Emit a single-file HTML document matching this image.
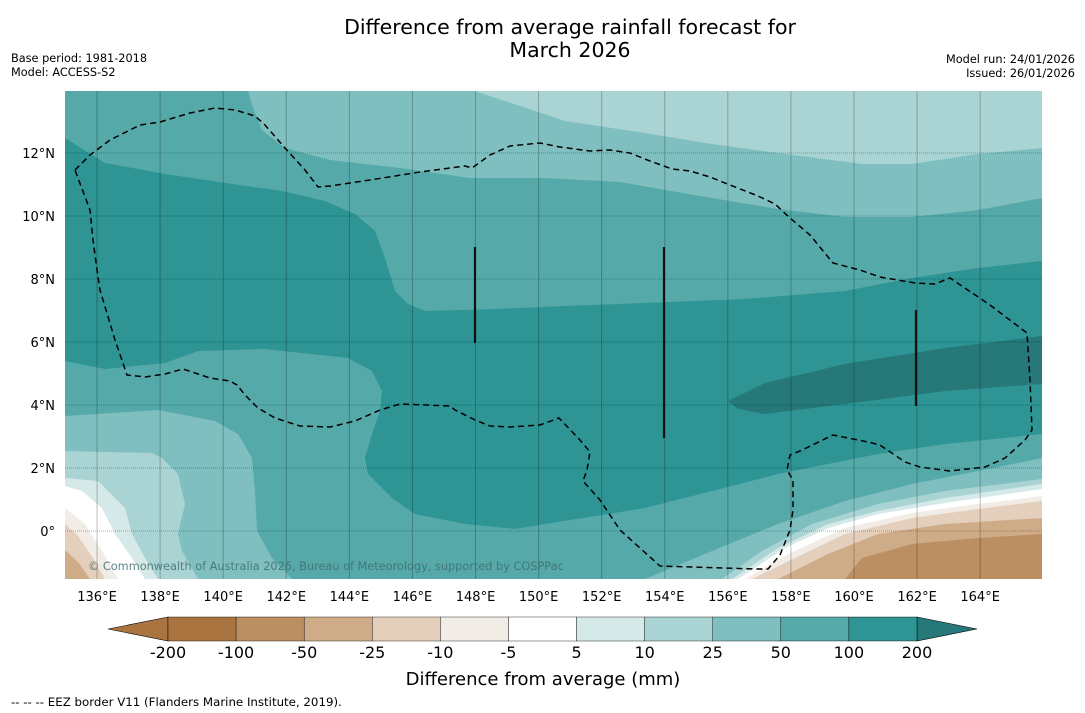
<!DOCTYPE html>
<html><head><meta charset="utf-8"><style>
body{margin:0;background:#fff;width:1085px;height:713px;overflow:hidden;font-family:"Liberation Sans","DejaVu Sans",sans-serif}
svg{position:absolute;left:0;top:0}
</style></head><body>
<svg width="1085" height="713" font-family="DejaVu Sans, Liberation Sans, sans-serif">
<text x="570" y="34" text-anchor="middle" font-size="20.5">Difference from average rainfall forecast for</text>
<text x="570" y="57" text-anchor="middle" font-size="20.5">March 2026</text>
<text x="11" y="62" font-size="11.3">Base period: 1981-2018</text>
<text x="11" y="76" font-size="11.3">Model: ACCESS-S2</text>
<text x="1075" y="63" font-size="11.3" text-anchor="end">Model run: 24/01/2026</text>
<text x="1075" y="77" font-size="11.3" text-anchor="end">Issued: 26/01/2026</text>
<defs><clipPath id="mc"><rect x="65" y="91" width="977" height="488"/></clipPath></defs>
<g clip-path="url(#mc)">
<rect x="65" y="91" width="977" height="488" fill="#56a9a9"/>
<path fill="#80bfbf" d="M248,91 L252,105 262,130 285,148 330,160 400,168 470,178 545,178 620,182 700,196 778,209 845,217 912,217 978,210 1042,198 L1042,91Z"/>
<path fill="#aad4d4" d="M475,91 L520,106 565,121 645,133 712,144 778,153 862,164 912,164 978,154 1042,148 L1042,91Z"/>
<path fill="#2e9494" d="M65,138 L105,163 165,174 232,184 282,191 325,201 355,214 375,231 385,258 395,291 408,304 425,311 498,309 565,306 645,303 745,299 845,291 912,278 978,268 1042,261 L1042,434 945,444 878,454 778,474 712,491 645,508 545,524 515,529 465,524 415,514 392,498 368,474 365,458 372,434 380,411 382,391 372,371 348,358 265,349 198,351 165,363 105,369 65,361Z"/>
<path fill="#277878" d="M728,401 L765,383 845,364 945,348 1042,336 1042,384 945,391 845,404 765,414 738,409Z"/>
<path fill="#80bfbf" d="M65,416 L98,414 158,410 215,421 238,434 252,458 255,491 257,531 272,558 292,579 65,579Z"/>
<path fill="#aad4d4" d="M65,451 L152,453 162,458 178,474 185,504 178,534 182,551 198,579 65,579Z"/>
<path fill="#d5e9e8" d="M65,478 L98,481 125,508 132,534 145,558 158,579 65,579Z"/>
<path fill="#ffffff" d="M65,486 L82,491 102,508 115,534 132,558 145,579 65,579Z"/>
<path fill="#f2ece7" d="M65,508 L85,524 102,551 118,579 65,579Z"/>
<path fill="#e3cfbc" d="M65,524 L78,536 93,558 105,579 65,579Z"/>
<path fill="#cfac88" d="M65,550 L78,562 90,579 65,579Z"/>
<path fill="#80bfbf" d="M645,579 L712,551 778,524 845,501 912,484 978,471 1042,458 1042,579Z"/>
<path fill="#aad4d4" d="M722,579 L762,551 812,524 878,504 945,491 1042,479 1042,579Z"/>
<path fill="#d5e9e8" d="M732,579 L778,548 828,524 878,511 945,498 1042,484 1042,579Z"/>
<path fill="#ffffff" d="M738,579 L785,548 828,528 878,514 945,503 1042,489 1042,579Z"/>
<path fill="#f2ece7" d="M745,579 L788,554 845,528 912,513 978,504 1042,496 1042,579Z"/>
<path fill="#e3cfbc" d="M752,579 L795,558 845,534 912,518 978,509 1042,501 1042,579Z"/>
<path fill="#cfac88" d="M778,579 L828,554 878,534 945,524 1042,518 1042,579Z"/>
<path fill="#bc8f63" d="M845,579 L862,558 912,544 978,538 1042,534 1042,579Z"/>
<g id="grid"></g>
<path fill="none" stroke="#000" stroke-width="1.5" stroke-dasharray="6,4" d="M75,170 L90,155 110,140 140,125 160,122 190,113 215,108 235,110 255,116 265,125 285,148 305,170 318,187 330,186 370,180 420,172 465,166 472,168 490,155 510,146 540,143 560,147 590,151 610,150 630,153 650,161 672,169 690,171 710,177 730,185 758,196 775,204 790,218 810,235 833,263 860,270 880,277 915,283 935,284 950,278 990,305 1027,333 1030,380 1032,430 1025,440 1005,458 985,467 950,471 920,467 905,462 880,445 868,442 833,435 800,451 790,455 787,470 793,480 793,510 790,530 780,555 768,569 755,569 660,566 620,530 600,500 583,481 587,470 590,452 580,440 559,418 540,425 510,427 490,426 475,420 455,410 450,406 400,404 380,410 355,421 330,427 300,426 275,418 258,408 245,395 237,385 230,381 210,378 183,369 165,374 145,377 127,375 115,340 100,290 97,270 93,240 90,210Z"/>
<g stroke="#111" stroke-width="2.2">
<line x1="475" y1="247" x2="475" y2="343"/><line x1="664" y1="247" x2="664" y2="438"/><line x1="916" y1="310" x2="916" y2="406"/></g>
<text x="88" y="570" font-size="11.3" fill="#3f6f6f" fill-opacity="0.85">© Commonwealth of Australia 2026, Bureau of Meteorology, supported by COSPPac</text>
</g>
<g id="axes" font-size="13"></g>
<g>
<path d="M168,617 L108,629 168,641Z" fill="#a97440" stroke="#000" stroke-width="0.6"/>
<path d="M917,617 L977,629 917,641Z" fill="#277878" stroke="#000" stroke-width="0.6"/>
<g id="cb"></g>
</g>
<text x="543" y="685" font-size="18" text-anchor="middle">Difference from average (mm)</text>
<text x="11" y="706" font-size="11.8">--  --  -- EEZ border V11 (Flanders Marine Institute, 2019).</text>
</svg>
<script>
const lonTicks=[136,138,140,142,144,146,148,150,152,154,156,158,160,162,164];
const latTicks=[0,2,4,6,8,10,12];
const cbLabels=["-200","-100","-50","-25","-10","-5","5","10","25","50","100","200"];
const cbColors=["#a97440","#bc8f63","#cfac88","#e3cfbc","#f2ece7","#ffffff","#d5e9e8","#aad4d4","#80bfbf","#56a9a9","#2e9494"];
const NS="http://www.w3.org/2000/svg";
const xLon=l=>65.5+(l-135)*31.54, yLat=l=>531-l*31.5;
function mk(t,a,p){const e=document.createElementNS(NS,t);for(const k in a)e.setAttribute(k,a[k]);p.appendChild(e);return e;}
const grid=document.getElementById('grid'),axes=document.getElementById('axes'),cb=document.getElementById('cb');
lonTicks.forEach(l=>{
 const ln=mk('line',{x1:xLon(l),x2:xLon(l),y1:91,y2:579,stroke:'#000','stroke-opacity':0.25,'stroke-width':1},grid);
 
 
 const t=mk('text',{x:xLon(l),y:601,'text-anchor':'middle'},axes);t.textContent=l+'°E';
 
 
});
latTicks.forEach(l=>{
 const ln=mk('line',{x1:65,x2:1042,y1:yLat(l),y2:yLat(l),stroke:'#000','stroke-opacity':0.3,'stroke-width':1,'stroke-dasharray':'1,1'},grid);
 
 
 const t=mk('text',{x:55,y:yLat(l)+5,'text-anchor':'end'},axes);t.textContent=l===0?'0°':l+'°N';
 
 
});
const w=(917-168)/cbColors.length;
cbColors.forEach((c,i)=>{
 const r=mk('rect',{x:168+i*w,y:617,width:w,height:24,fill:c,stroke:'#000','stroke-width':0.4},cb);
 
 
});
cbLabels.forEach((s,i)=>{
 const t=mk('text',{x:168+i*w,y:658,'text-anchor':'middle','font-size':16},cb);t.textContent=s;
 
 
});
</script>
</body></html>
